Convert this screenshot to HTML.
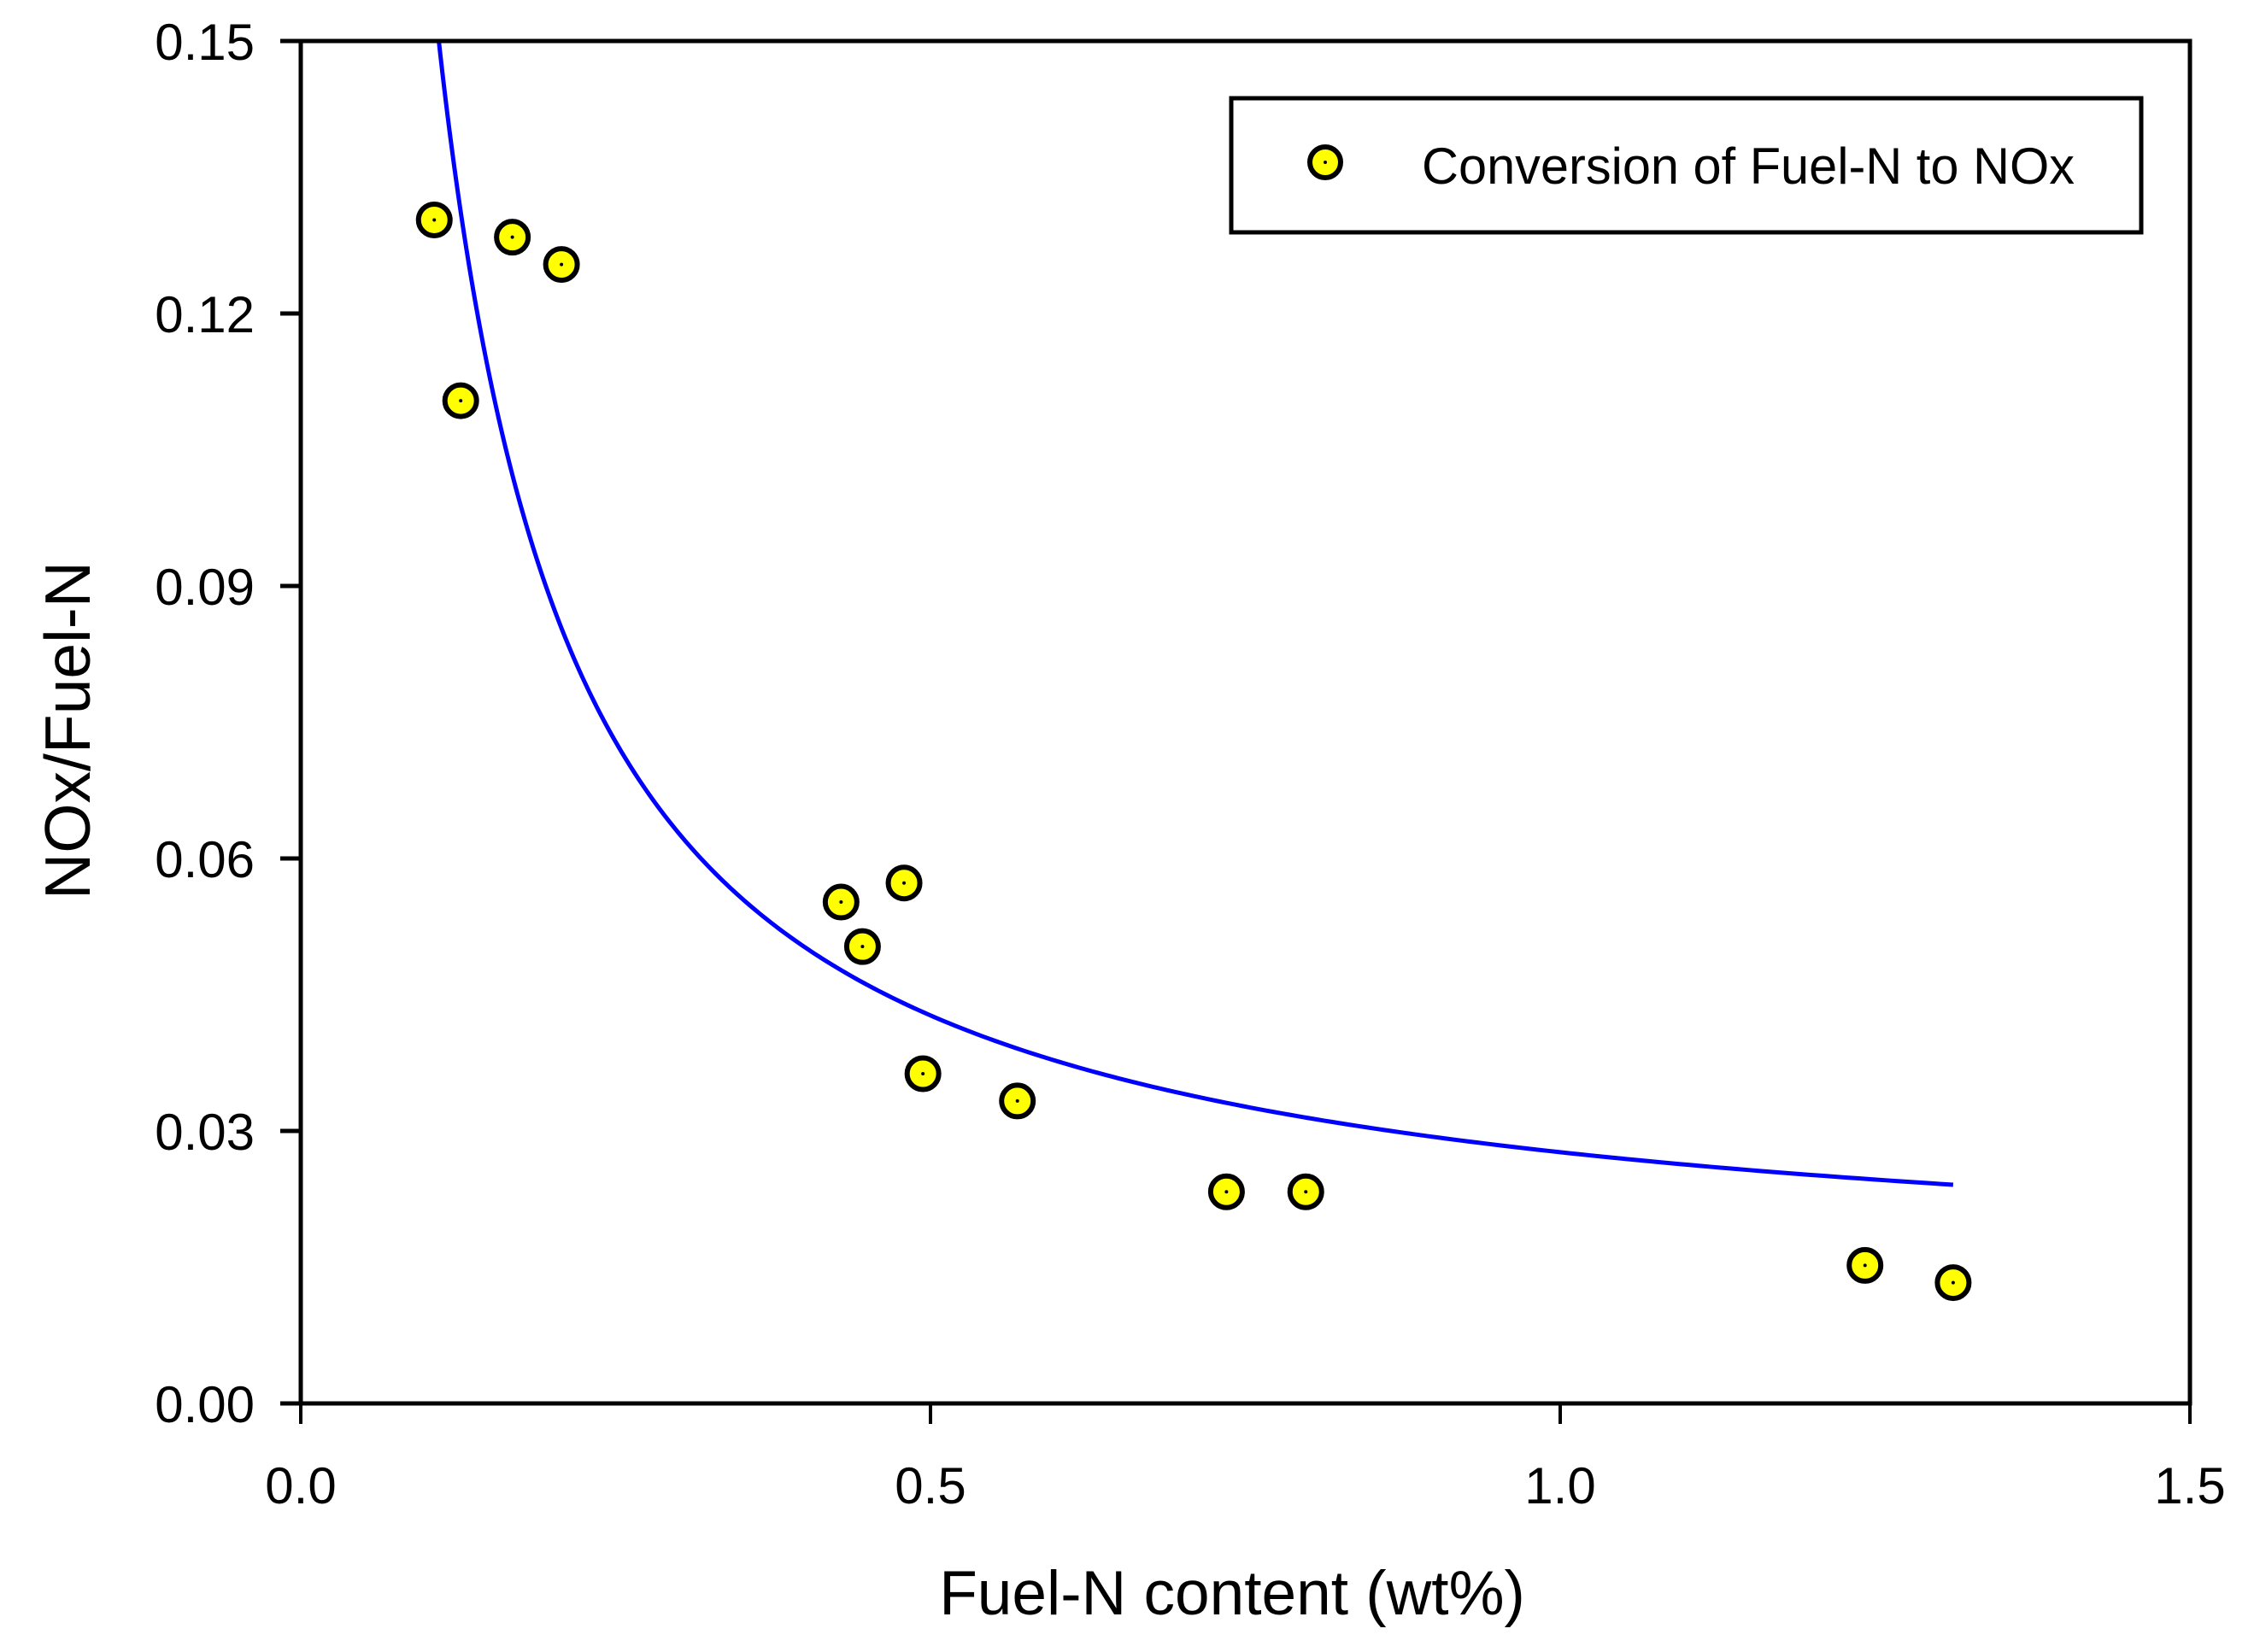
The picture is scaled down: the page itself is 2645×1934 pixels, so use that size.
<!DOCTYPE html>
<html><head><meta charset="utf-8"><style>
html,body{margin:0;padding:0;background:#fff;}
svg{display:block;font-family:"Liberation Sans",Arial,sans-serif;}
</style></head><body>
<svg id="chart" width="2645" height="1934" viewBox="0 0 2645 1934" xmlns="http://www.w3.org/2000/svg">
<rect x="0" y="0" width="2645" height="1934" fill="#fff"/>
<g id="grid"></g>
<g id="curve"></g>
<g id="points"></g>
<g id="axes"></g>
<g>
<rect x="1441" y="115" width="1065" height="157" fill="#fff" stroke="#000" stroke-width="5"/>
<circle cx="1551" cy="190" r="18" fill="#ffff00" stroke="#000" stroke-width="6"/>
<circle cx="1551" cy="190" r="2" fill="#000"/>
<text x="1664" y="215" font-size="60" textLength="764" lengthAdjust="spacingAndGlyphs">Conversion of Fuel-N to NOx</text>
</g>
<text x="1442" y="1890" font-size="73" text-anchor="middle">Fuel-N content (wt%)</text>
<text transform="translate(105,855) rotate(-90)" font-size="75" text-anchor="middle">NOx/Fuel-N</text>
</svg>
<script>
const xTicks = [0.0, 0.5, 1.0, 1.5];
const xTickLabels = ["0.0", "0.5", "1.0", "1.5"];
const yTicks = [0.00, 0.03, 0.06, 0.09, 0.12, 0.15];
const yTickLabels = ["0.00", "0.03", "0.06", "0.09", "0.12", "0.15"];
const fuelN = [0.106, 0.168, 0.207, 0.127, 0.429, 0.479, 0.446, 0.494, 0.569, 0.735, 0.798, 1.242, 1.312];
const conversion = [0.1303, 0.1284, 0.1254, 0.1104, 0.0552, 0.0573, 0.0503, 0.0363, 0.0333, 0.0233, 0.0233, 0.0152, 0.0133];
const fitParams = [0.0126, 0.01506];
const fitRange = [0.1096, 1.312];

const NS = "http://www.w3.org/2000/svg";
const X0 = 352, X1 = 2563, Y0 = 1643, Y1 = 48;
const xMin = 0, xMax = 1.5, yMin = 0, yMax = 0.15;
function sx(v){ return X0 + (v - xMin) / (xMax - xMin) * (X1 - X0); }
function sy(v){ return Y0 - (v - yMin) / (yMax - yMin) * (Y0 - Y1); }
function mk(tag, attrs, parent){ const e = document.createElementNS(NS, tag); for (const k in attrs) e.setAttribute(k, attrs[k]); parent.appendChild(e); return e; }

const axes = document.getElementById('axes');
const frame = mk('rect', {x:X0, y:Y1, width:X1-X0, height:Y0-Y1, fill:'none', stroke:'#000', 'stroke-width':5}, axes);



xTicks.forEach((t, i) => {
  const x = sx(t);
  const tk = mk('line', {x1:x, y1:Y0, x2:x, y2:Y0+24, stroke:'#000', 'stroke-width':4}, axes);
  
  
  const lb = mk('text', {x:x, y:1760, 'font-size':60, 'text-anchor':'middle'}, axes);
  lb.textContent = xTickLabels[i];
  
  
});
yTicks.forEach((t, i) => {
  const y = sy(t);
  const tk = mk('line', {x1:X0-24, y1:y, x2:X0, y2:y, stroke:'#000', 'stroke-width':5}, axes);
  
  
  const lb = mk('text', {x:298, y:y+22, 'font-size':60, 'text-anchor':'end'}, axes);
  lb.textContent = yTickLabels[i];
  
  
});

const curveG = document.getElementById('curve');
let d = '';
const N = 300;
for (let i = 0; i <= N; i++) {
  const xv = fitRange[0] * Math.pow(fitRange[1] / fitRange[0], i / N);
  const yv = fitParams[0] + fitParams[1] / xv;
  d += (i ? 'L' : 'M') + sx(xv).toFixed(2) + ',' + sy(yv).toFixed(2);
}
const path = mk('path', {d:d, fill:'none', stroke:'#0000ff', 'stroke-width':5}, curveG);



const ptsG = document.getElementById('points');
fuelN.forEach((xv, i) => {
  const c = mk('circle', {cx:sx(xv), cy:sy(conversion[i]), r:18.5, fill:'#ffff00', stroke:'#000', 'stroke-width':6}, ptsG);
  
  
  const dt = mk('circle', {cx:sx(xv), cy:sy(conversion[i]), r:2, fill:'#000'}, ptsG);
  
  
});
</script>
</body></html>
